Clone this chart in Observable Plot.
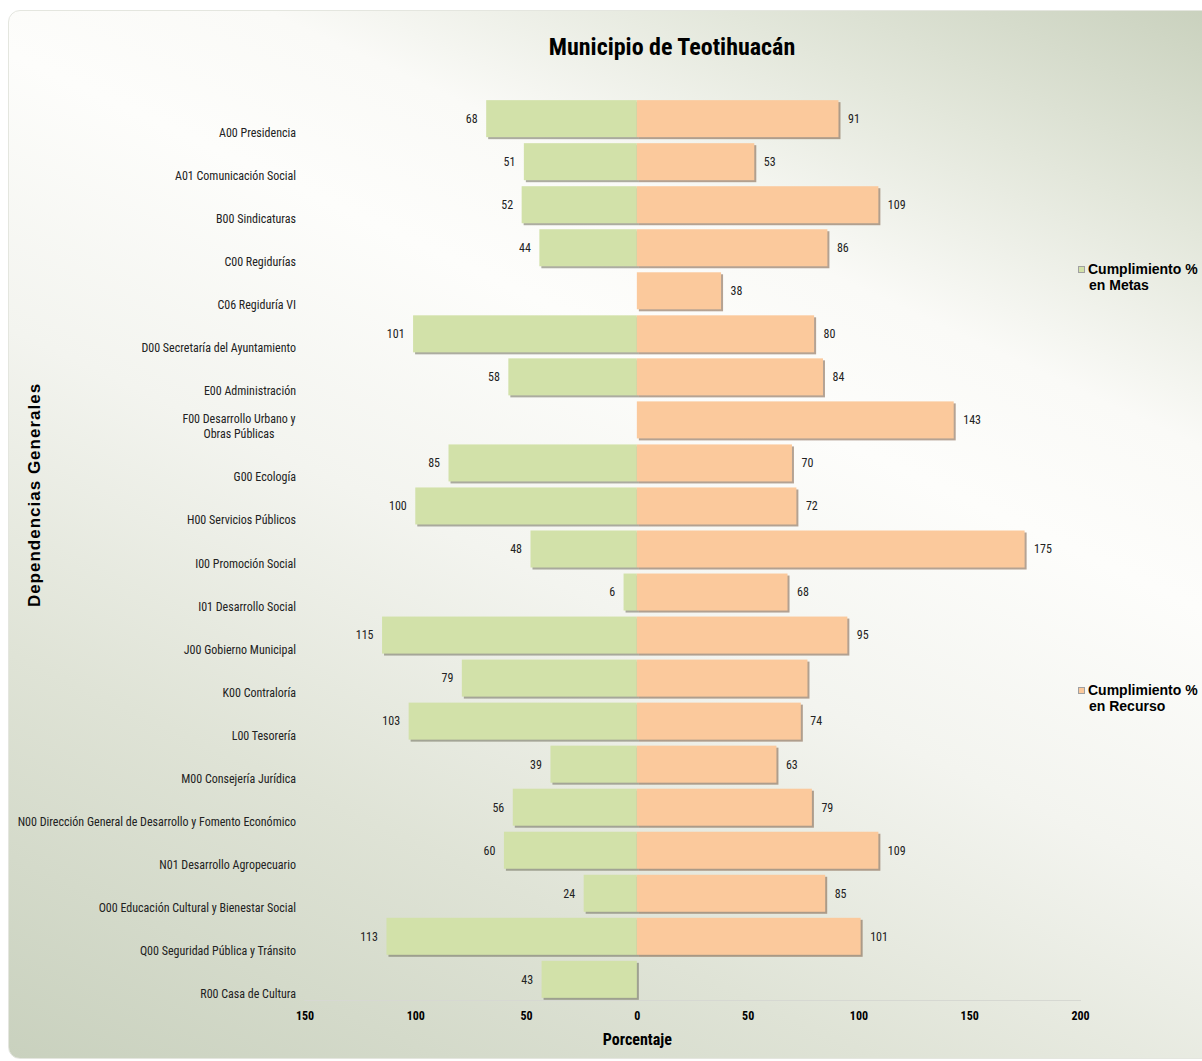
<!DOCTYPE html>
<html>
<head>
<meta charset="utf-8">
<script src="https://cdn.jsdelivr.net/npm/d3@7"></script>
<script src="https://cdn.jsdelivr.net/npm/@observablehq/plot@0.6"></script>
<style>
  html, body { margin: 0; padding: 0; background: #ffffff; }
  #wrap { position: relative; width: 1202px; height: 1061px; overflow: hidden; background: #ffffff; }
  #panel {
    position: absolute; left: 8px; top: 10px; width: 1230px; height: 1047px;
    border-radius: 12px; border: 1px solid #e4e6df;
    background: linear-gradient(25deg, #c9d1be 0%, #dfe3d6 25%, #f3f4ef 45%, #fdfdfb 62%, #fafaf7 72%, #e3e7db 85%, #c8d0bc 100%);
  }
  #chart { position: absolute; left: 0; top: 0; }
  .narrow { font-family: "Liberation Sans Narrow", "Arial Narrow", "Roboto Condensed", "DejaVu Sans Condensed", sans-serif; }
  #title { position: absolute; left: 0; width: 1344px; top: 33px; text-align: center; font-size: 24px; font-weight: bold; color: #000; }
  #ytitle { position: absolute; left: 35px; top: 495px; transform: translate(-50%, -50%) rotate(-90deg); white-space: nowrap;
    font-family: "Liberation Sans", Arial, sans-serif; font-weight: bold; font-size: 17px; letter-spacing: 1px; color: #000; }
  .legend { position: absolute; left: 1078px; font-family: "Liberation Sans", Arial, sans-serif; font-weight: bold; font-size: 14px; line-height: 16px; color: #000; white-space: nowrap; }
  .legend .sw { display: inline-block; width: 7px; height: 7px; margin-right: 3px; vertical-align: 1px; border: 1px solid #a0a0a0; box-sizing: border-box; }
  .legend .l2 { padding-left: 11px; }
</style>
</head>
<body>
<div id="wrap">
  <div id="panel"></div>
  <div id="chart"></div>
  <div id="title" class="narrow">Municipio de Teotihuacán</div>
  <div id="ytitle">Dependencias Generales</div>
  <div class="legend" style="top:261px"><span class="sw" style="background:#d2e1a9"></span>Cumplimiento %<br><span class="l2">en Metas</span></div>
  <div class="legend" style="top:682px"><span class="sw" style="background:#fbc99c"></span>Cumplimiento %<br><span class="l2">en Recurso</span></div>
</div>
<script>
const categories = [
  "A00 Presidencia",
  "A01 Comunicación Social",
  "B00 Sindicaturas",
  "C00 Regidurías",
  "C06 Regiduría VI",
  "D00 Secretaría del Ayuntamiento",
  "E00 Administración",
  "F00 Desarrollo Urbano y\nObras Públicas",
  "G00 Ecología",
  "H00 Servicios Públicos",
  "I00 Promoción Social",
  "I01 Desarrollo Social",
  "J00 Gobierno Municipal",
  "K00 Contraloría",
  "L00 Tesorería",
  "M00 Consejería Jurídica",
  "N00 Dirección General de Desarrollo y Fomento Económico",
  "N01 Desarrollo Agropecuario",
  "O00 Educación Cultural y Bienestar Social",
  "Q00 Seguridad Pública y Tránsito",
  "R00 Casa de Cultura"
];
const metas = [68, 51, 52, 44, null, 101, 58, null, 85, 100, 48, 6, 115, 79, 103, 39, 56, 60, 24, 113, 43];
const recurso = [91, 53, 109, 86, 38, 80, 84, 143, 70, 72, 175, 68, 95, 77, 74, 63, 79, 109, 85, 101, null];
// K00 recurso bar has no data label in the original
const recursoLabeled = [true, true, true, true, true, true, true, true, true, true, true, true, true, false, true, true, true, true, true, true, true];
const xTicks = [-150, -100, -50, 0, 50, 100, 150, 200];

const rows = categories.map((c, i) => ({cat: c, metas: metas[i], recurso: recurso[i], lab: recursoLabeled[i]}));
const mRows = rows.filter(d => d.metas != null);
const rRows = rows.filter(d => d.recurso != null);

const GREEN = "#d2e1a9", ORANGE = "#fbc99c";
const NARROW = '"Liberation Sans Narrow", "Arial Narrow", "Roboto Condensed", "DejaVu Sans Condensed", sans-serif';

const chart = Plot.plot({
  width: 1202,
  height: 1061,
  marginTop: 98,
  marginBottom: 61,
  marginLeft: 304.5,
  marginRight: 122,
  style: {background: "transparent", fontFamily: NARROW, fontSize: "12px", color: "#000"},
  x: {domain: [-150, 200]},
  y: {domain: categories, paddingInner: 0.14, paddingOuter: 0.05, round: false},
  marks: [
    Plot.frame({anchor: "bottom", stroke: "#d6d8d2"}),
    // shadows
    Plot.barX(mRows, {y: "cat", x1: 0, x2: d => -d.metas, fill: "#6b6b5a", fillOpacity: 0.55, dx: 2, dy: 2}),
    Plot.barX(rRows, {y: "cat", x1: 0, x2: d => d.recurso, fill: "#7a5a40", fillOpacity: 0.55, dx: 2, dy: 2}),
    // bars
    Plot.barX(mRows, {y: "cat", x1: 0, x2: d => -d.metas, fill: GREEN}),
    Plot.barX(rRows, {y: "cat", x1: 0, x2: d => d.recurso, fill: ORANGE}),
    // value labels
    Plot.text(mRows, {y: "cat", x: d => -d.metas, text: d => String(d.metas), textAnchor: "end", dx: -9, fill: "#222", fontSize: 12}),
    Plot.text(rRows.filter(d => d.lab), {y: "cat", x: d => d.recurso, text: d => String(d.recurso), textAnchor: "start", dx: 9, fill: "#222", fontSize: 12}),
    // category labels
    Plot.axisY({tickSize: 0, tickPadding: 9, dy: 18, lineAnchor: "bottom", label: null, fontSize: 12, fill: "#222",
      tickFormat: d => d.includes("\n") ? "" : d}),
    Plot.text(categories.filter(d => d.includes("\n")), {y: d => d, text: d => d, frameAnchor: "left", dx: -66, dy: 17.5,
      textAnchor: "middle", lineAnchor: "bottom", lineHeight: 1.25, fontSize: 12, fill: "#222"}),
    // x axis
    Plot.axisX({ticks: xTicks, tickFormat: d => String(Math.abs(d)), tickSize: 0, tickPadding: 11, label: null,
      fontWeight: "bold", fontSize: 12, fill: "#000"}),
    Plot.text(["Porcentaje"], {x: [0], frameAnchor: "bottom", dy: 44, fontWeight: "bold", fontSize: 16, fill: "#000"})
  ]
});
document.getElementById("chart").appendChild(chart);
</script>
</body>
</html>
